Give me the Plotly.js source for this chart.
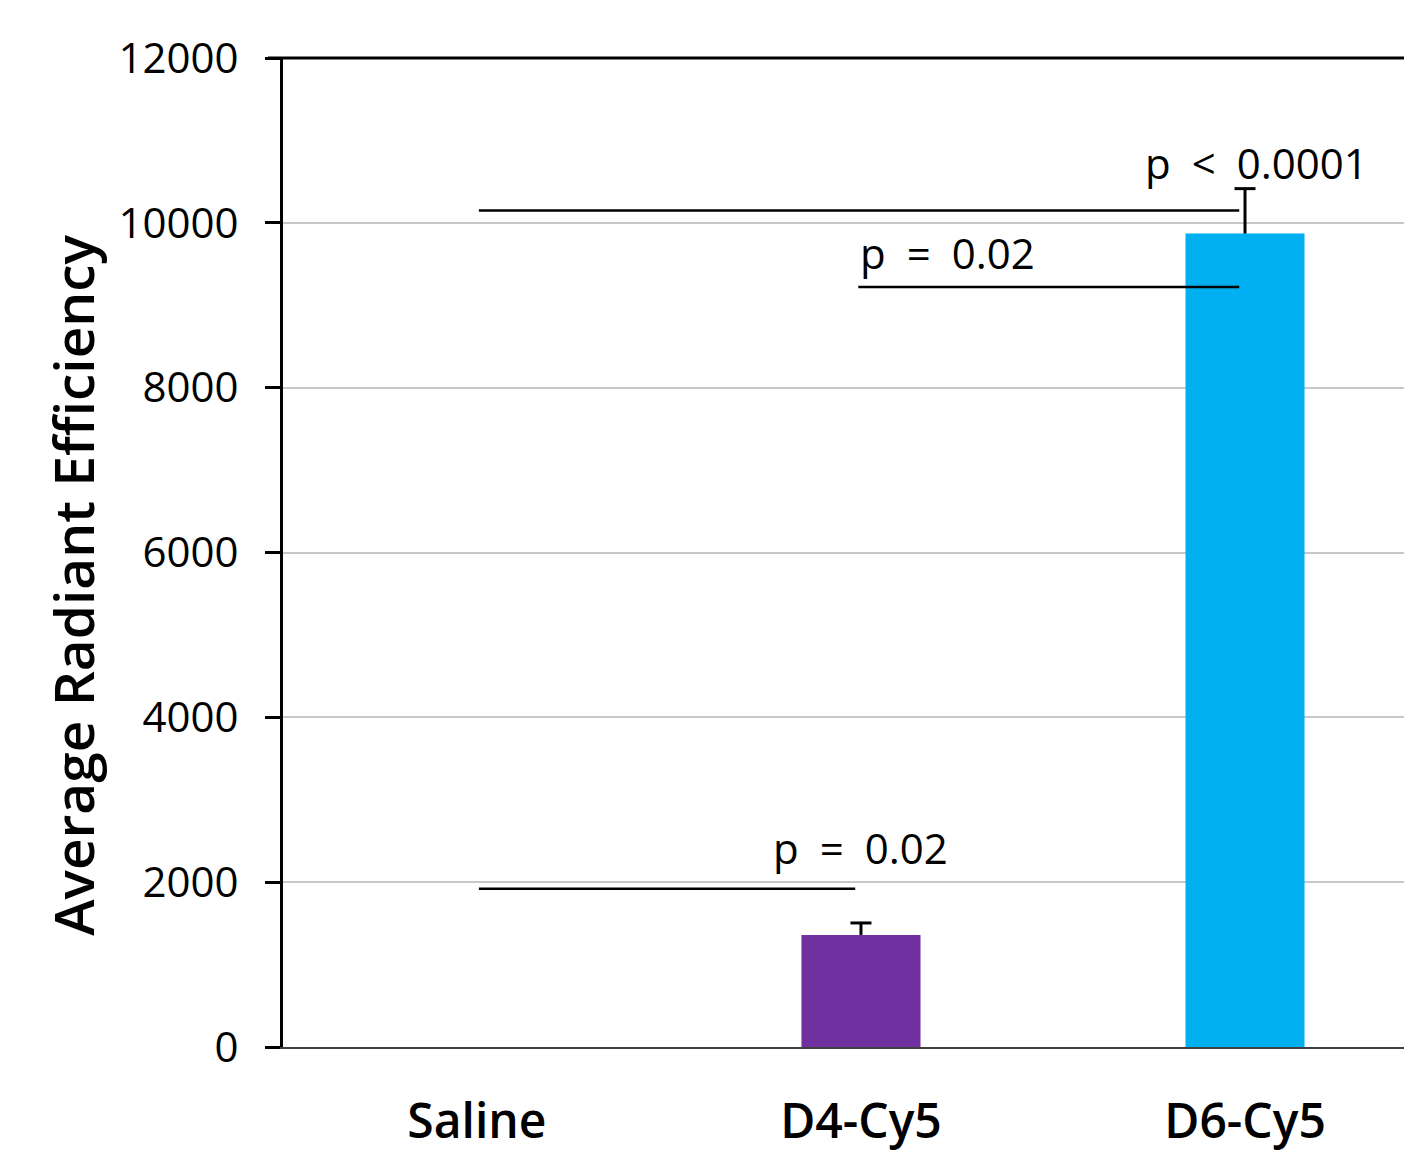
<!DOCTYPE html>
<html>
<head>
<meta charset="utf-8">
<script src="https://cdn.plot.ly/plotly-3.0.1.min.js"></script>
<style>html,body{margin:0;padding:0;background:#fff;}#chart{width:1404px;height:1155px;}</style>
</head>
<body>
<div id="chart"></div>
<script>
// Data
const categories = ["Saline", "D4-Cy5", "D6-Cy5"];
const values = [0, 1360, 9870];
const errorsUp = [null, 145, 545];
const barColors = ["#7030A0", "#7030A0", "#00B0F0"];
const yTicks = [0, 2000, 4000, 6000, 8000, 10000, 12000];
const yTitle = "Average Radiant Efficiency";

// Significance brackets (category index start/end, y level)
const bracketStart = [0, 1, 0];
const bracketEnd = [2, 2, 1];
const bracketY = [10150, 9220, 1920];
const bracketLabels = ["p < 0.0001", "p = 0.02", "p = 0.02"];
const labelX = [2.03, 1.225, 1.0];
const labelY = [10730, 9640, 2420];

const FONT = "Open Sans, Noto Sans, sans-serif";
const idx = categories.map((c, i) => i);

const barTrace = {
  type: "bar",
  x: idx,
  y: values,
  width: 0.31,
  marker: { color: barColors },
  error_y: {
    type: "data",
    symmetric: false,
    array: errorsUp.map(e => e == null ? 0 : e),
    arrayminus: values.map(() => 0),
    color: "#000",
    thickness: 3,
    width: 0,
    visible: true
  },
  hoverinfo: "none"
};

// top caps of one-sided error bars
const capTrace = {
  type: "scatter",
  mode: "markers",
  x: idx,
  y: values.map((v, i) => errorsUp[i] == null ? null : v + errorsUp[i]),
  marker: { symbol: "line-ew", size: 15, line: { color: "#000", width: 3 } },
  hoverinfo: "none"
};

const shapes = bracketStart.map((s, i) => ({
  type: "line",
  xref: "x", yref: "y",
  x0: s + (s === 0 ? 0.005 : -0.007), x1: bracketEnd[i] - 0.015,
  y0: bracketY[i], y1: bracketY[i],
  line: { color: "#000", width: 2.5 }
}));
// top frame line
shapes.push({
  type: "line", xref: "paper", yref: "paper",
  x0: -0.0135, x1: 1, y0: 1, y1: 1,
  line: { color: "#000", width: 3 }
});

const sp = "\u2002";
const annotations = bracketLabels.map((t, i) => ({
  x: labelX[i], y: labelY[i], xref: "x", yref: "y",
  text: t.split(" ").join(sp), showarrow: false,
  font: { family: FONT, size: 42, color: "#000" }
}));
// y-axis title (placed as rotated annotation to match vertical offset)
annotations.push({
  xref: "paper", yref: "paper", x: -0.1885, y: 0.467,
  xanchor: "center", yanchor: "middle", textangle: -90,
  text: yTitle, showarrow: false,
  font: { family: FONT, size: 55, color: "#000", weight: 600 }
});

const layout = {
  width: 1404, height: 1155,
  margin: { l: 283, r: 0, t: 58, b: 108 },
  paper_bgcolor: "#fff", plot_bgcolor: "#fff",
  showlegend: false,
  xaxis: {
    range: [-0.505, 2.414],
    tickmode: "array",
    tickvals: idx,
    ticktext: categories,
    ticks: "",
    showgrid: false,
    zeroline: false,
    showline: true,
    linecolor: "#404040",
    linewidth: 2,
    tickfont: { family: FONT, size: 48, color: "#000", weight: 600 },
    ticklabelstandoff: 31
  },
  yaxis: {
    range: [0, 12000],
    tickmode: "array",
    tickvals: yTicks,
    ticktext: yTicks.map(String),
    ticks: "outside",
    ticklen: 15,
    tickwidth: 3,
    tickcolor: "#000",
    showline: true,
    linecolor: "#000",
    linewidth: 3,
    showgrid: true,
    gridcolor: "#c8c8c8",
    gridwidth: 2,
    zeroline: false,
    ticklabelstandoff: 18,
    tickfont: { family: FONT, size: 42, color: "#000" }
  },
  shapes: shapes,
  annotations: annotations
};

Plotly.newPlot("chart", [barTrace, capTrace], layout, { displayModeBar: false, staticPlot: true });
</script>
</body>
</html>
